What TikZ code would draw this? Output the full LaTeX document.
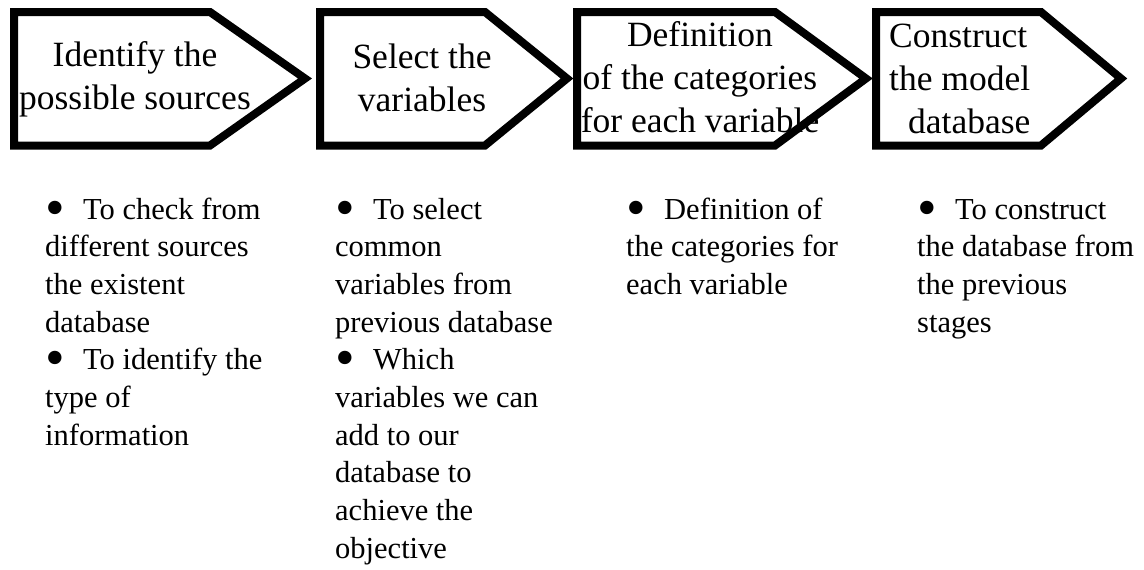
\documentclass[tikz,border=0pt]{standalone}
\usepackage{fontspec}
\setmainfont{Liberation Serif}
\newcommand\bulitem{\makebox[38pt][l]{\raisebox{-7pt}[0pt][0pt]{\fontsize{56}{56}\selectfont\textbullet}}}
\begin{document}
\begin{tikzpicture}[x=1pt,y=-1pt,
  chev/.style={draw=black,line width=8pt,line join=miter,miter limit=10,fill=white},
  headtext/.style={inner sep=0pt,align=center,font=\fontsize{35.5}{43}\selectfont},
  headleft/.style={inner sep=0pt,align=left,font=\fontsize{35.5}{43}\selectfont},
  bodytext/.style={inner sep=0pt,align=left,anchor=base west,font=\fontsize{30.5}{37.7}\selectfont}]
\useasboundingbox (0,0) rectangle (1144,570);
% chevrons
\draw[chev] (14,12) -- (210,12) -- (305,78.5) -- (210,145.5) -- (14,145.5) -- cycle;
\draw[chev] (320,12) -- (485,12) -- (567,78.5) -- (485,145.5) -- (320,145.5) -- cycle;
\draw[chev] (577,12) -- (775,12) -- (866,78.5) -- (775,145.5) -- (577,145.5) -- cycle;
\draw[chev] (876,12) -- (1041,12) -- (1121,78.5) -- (1041,145.5) -- (876,145.5) -- cycle;
% header texts (base anchor = last line's baseline)
\node[headtext,anchor=base] (h1) at (135,109) {Identify the\\possible sources};
\node[headtext,anchor=base] (h2) at (422,111) {Select the\\variables};
\node[headtext,anchor=base] (h3) at (700,132) {Definition\\of the categories\\for each variable};
\node[headleft,anchor=base west] (h4) at (889,133) {Construct\\the model\\\hspace*{19pt}database};
% bullet texts
\node[bodytext] (b1) at (45,445.2) {\bulitem To check from\\different sources\\the existent\\database\\\bulitem To identify the\\type of\\information};
\node[bodytext] (b2) at (335,558.3) {\bulitem To select\\common\\variables from\\previous database\\\bulitem Which\\variables we can\\add to our\\database to\\achieve the\\objective};
\node[bodytext] (b3) at (626,294.4) {\bulitem Definition of\\the categories for\\each variable};
\node[bodytext] (b4) at (917,332.1) {\bulitem To construct\\the database from\\the previous\\stages};
\end{tikzpicture}
\end{document}
